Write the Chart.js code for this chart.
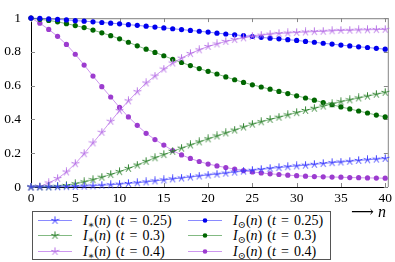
<!DOCTYPE html>
<html><head><meta charset="utf-8">
<script src="https://cdn.jsdelivr.net/npm/chart.js@4/dist/chart.umd.min.js"></script>
<style>
html,body{margin:0;padding:0;background:#fff;}
#wrap{position:relative;width:395px;height:262px;overflow:hidden;font-family:"Liberation Serif","DejaVu Serif",serif;color:#000;}
#c{position:absolute;left:0;top:0;}
#legend{position:absolute;left:32px;top:211px;width:297px;height:47px;border:1px solid #555;background:#fff;}
.row{position:absolute;height:15px;line-height:15px;font-size:14px;white-space:nowrap;word-spacing:1.6px;}
.row canvas{position:absolute;left:0;top:2px;}
.row span{position:absolute;top:0;}
sub{font-size:70%;vertical-align:-3px;line-height:0;}
#nlab{position:absolute;left:351px;top:202px;white-space:nowrap;}
</style>
</head><body>
<div id="wrap">
<canvas id="c" width="395" height="207"></canvas>
<div id="legend"></div>
<div id="nlab"><span style="font-family:'DejaVu Serif',serif;font-size:16px">⟶</span>&nbsp;<i style="font-size:16px">n</i></div>
</div>
<script>
// ---- data ----
const nVals = [0,1,2,3,4,5,6,7,8,9,10,11,12,13,14,15,16,17,18,19,20,21,22,23,24,25,26,27,28,29,30,31,32,33,34,35,36,37,38,39,40];
const xTicks = [0,5,10,15,20,25,30,35,40];
const yTicks = [0,0.2,0.4,0.6,0.8,1];
const yTickLabels = ['0','0.2','0.4','0.6','0.8','1'];
const tLabels = ['0.25','0.3','0.4'];

const starT025 = [0,0,0.0005,0.001,0.002,0.003,0.005,0.007,0.01,0.013,0.017,0.021,0.025,0.03,0.036,0.042,0.048,0.053,0.059,0.065,0.071,0.076,0.082,0.088,0.094,0.099,0.104,0.11,0.115,0.12,0.125,0.129,0.134,0.139,0.144,0.148,0.152,0.157,0.161,0.165,0.169];
const starT03 = [0,0,0.001,0.004,0.009,0.019,0.03,0.043,0.058,0.074,0.091,0.11,0.13,0.152,0.173,0.192,0.211,0.23,0.249,0.267,0.285,0.302,0.32,0.337,0.355,0.372,0.386,0.4,0.413,0.427,0.44,0.453,0.466,0.479,0.492,0.505,0.516,0.527,0.538,0.549,0.56];
const starT04 = [0,0.003,0.024,0.05,0.089,0.138,0.197,0.261,0.324,0.389,0.452,0.51,0.564,0.616,0.657,0.698,0.734,0.763,0.79,0.812,0.832,0.847,0.862,0.873,0.883,0.892,0.899,0.905,0.909,0.912,0.915,0.918,0.92,0.922,0.925,0.927,0.928,0.93,0.931,0.932,0.933];
const circT025 = [1,0.998,0.995,0.992,0.989,0.985,0.982,0.978,0.974,0.97,0.966,0.961,0.957,0.952,0.947,0.942,0.937,0.932,0.927,0.922,0.917,0.911,0.906,0.901,0.896,0.891,0.886,0.881,0.877,0.872,0.868,0.862,0.857,0.851,0.846,0.84,0.835,0.83,0.826,0.821,0.816];
const circT03 = [1,0.993,0.986,0.978,0.967,0.956,0.944,0.929,0.913,0.896,0.877,0.857,0.836,0.816,0.797,0.777,0.756,0.737,0.719,0.701,0.685,0.669,0.652,0.635,0.619,0.605,0.592,0.579,0.566,0.553,0.54,0.527,0.514,0.5,0.487,0.474,0.462,0.45,0.438,0.426,0.415];
const circT04 = [1,0.97,0.933,0.892,0.844,0.786,0.722,0.657,0.594,0.533,0.471,0.415,0.365,0.318,0.281,0.248,0.216,0.19,0.169,0.151,0.136,0.125,0.115,0.106,0.097,0.089,0.083,0.078,0.074,0.07,0.067,0.064,0.062,0.06,0.059,0.058,0.056,0.055,0.054,0.053,0.052];

// ---- styles ----
const colors = ['#0000ee','#006600','#9c3ccf'];
const lineColors = ['rgba(60,60,255,0.6)','rgba(30,130,30,0.55)','rgba(180,95,230,0.65)'];
const starColors = ['#3c3cff','#2f822f','#b670e6'];

function makeStar(color){
  const r = 3.7, s = 9;
  const c = document.createElement('canvas'); c.width = s; c.height = s;
  const g = c.getContext('2d');
  g.strokeStyle = color; g.lineWidth = 1; g.lineCap = 'round';
  g.beginPath();
  for (let k = 0; k < 5; k++) {
    const a = (-90 + 72 * k) * Math.PI / 180;
    g.moveTo(s/2, s/2); g.lineTo(s/2 + r*Math.cos(a), s/2 + r*Math.sin(a));
  }
  g.stroke();
  return c;
}
const pts = arr => nVals.map((n, i) => ({x: n, y: arr[i]}));

const starSeries = [starT025, starT03, starT04];
const circSeries = [circT025, circT03, circT04];
const datasets = [];
for (let i = 0; i < 3; i++) {
  datasets.push({
    data: pts(starSeries[i]), borderColor: lineColors[i], borderWidth: 1,
    pointStyle: makeStar(starColors[i]), pointRadius: 4, clip: false
  });
}
for (let i = 0; i < 3; i++) {
  datasets.push({
    data: pts(circSeries[i]), borderColor: lineColors[i], borderWidth: 1,
    pointStyle: 'circle', pointRadius: 2.6, pointBorderWidth: 0,
    pointBackgroundColor: colors[i], pointBorderColor: colors[i], clip: false
  });
}

const frame = {
  id: 'frame',
  beforeDatasetsDraw(chart) {
    const {ctx, chartArea: a, scales} = chart;
    ctx.save();
    ctx.strokeStyle = '#999'; ctx.lineWidth = 1.2;
    ctx.beginPath();
    ctx.moveTo(a.left, a.top + 0.5); ctx.lineTo(a.right + 0.5, a.top + 0.5); ctx.lineTo(a.right + 0.5, a.bottom);
    ctx.stroke();
    ctx.strokeStyle = '#888'; ctx.lineWidth = 1;
    ctx.beginPath();
    xTicks.forEach(v => {
      const x = Math.round(scales.x.getPixelForValue(v)) + 0.5;
      ctx.moveTo(x, a.top); ctx.lineTo(x, a.top + 4);
      ctx.moveTo(x, a.bottom); ctx.lineTo(x, a.bottom - 4);
    });
    yTicks.forEach(v => {
      const y = Math.round(scales.y.getPixelForValue(v)) + 0.5;
      ctx.moveTo(a.left, y); ctx.lineTo(a.left + 4, y);
      ctx.moveTo(a.right, y); ctx.lineTo(a.right - 4, y);
    });
    ctx.stroke();
    ctx.restore();
  }
};

const tickFont = {family: "'Liberation Serif', 'DejaVu Serif', serif", size: 13.5};
new Chart(document.getElementById('c'), {
  type: 'line',
  data: {datasets},
  options: {
    responsive: false, animation: false, devicePixelRatio: 1,
    layout: {padding: {left: 0, right: 7, top: 8, bottom: 0}},
    plugins: {legend: {display: false}, tooltip: {enabled: false}},
    elements: {line: {tension: 0}},
    scales: {
      x: {
        type: 'linear', min: 0, max: 40.3,
        afterBuildTicks: s => { s.ticks = xTicks.map(v => ({value: v})); },
        afterFit: s => { s.height = 20; },
        grid: {display: false, drawTicks: false},
        border: {display: true, color: '#000', width: 1},
        ticks: {padding: 3, font: tickFont, color: '#000', maxRotation: 0,
                callback: (v, i) => String(xTicks[i])}
      },
      y: {
        type: 'linear', min: 0, max: 1,
        afterBuildTicks: s => { s.ticks = yTicks.map(v => ({value: v})); },
        afterFit: s => { s.width = 31; },
        grid: {display: false, drawTicks: false},
        border: {display: true, color: '#000', width: 1},
        ticks: {padding: 10, font: tickFont, color: '#000',
                callback: (v, i) => yTickLabels[i]}
      }
    }
  },
  plugins: [frame]
});

// ---- HTML legend ----
const legend = document.getElementById('legend');
const rowCenters = [8, 23.5, 39];
function legendIcon(kind, i) {
  const c = document.createElement('canvas'); c.width = 36; c.height = 11;
  const g = c.getContext('2d');
  g.strokeStyle = lineColors[i]; g.lineWidth = 1;
  g.beginPath(); g.moveTo(0, 5.5); g.lineTo(34, 5.5); g.stroke();
  if (kind === 'star') g.drawImage(makeStar(starColors[i]), 17 - 4.5, 1);
  else { g.fillStyle = colors[i]; g.beginPath(); g.arc(17, 5.5, 2.3, 0, Math.PI*2); g.fill(); }
  return c;
}
for (let col = 0; col < 2; col++) {
  const kind = col === 0 ? 'star' : 'circ';
  const sym = col === 0 ? '∗' : '⊙';
  for (let i = 0; i < 3; i++) {
    const row = document.createElement('div');
    row.className = 'row';
    row.style.left = (col === 0 ? 5 : 155) + 'px';
    row.style.top = (rowCenters[i] - 7.5) + 'px';
    row.appendChild(legendIcon(kind, i));
    const sp = document.createElement('span');
    sp.style.left = '45px';
    sp.innerHTML = '<i>I</i><sub>' + sym + '</sub>(<i>n</i>) (<i>t</i> = ' + tLabels[i] + ')';
    row.appendChild(sp);
    legend.appendChild(row);
  }
}
</script>
</body></html>
